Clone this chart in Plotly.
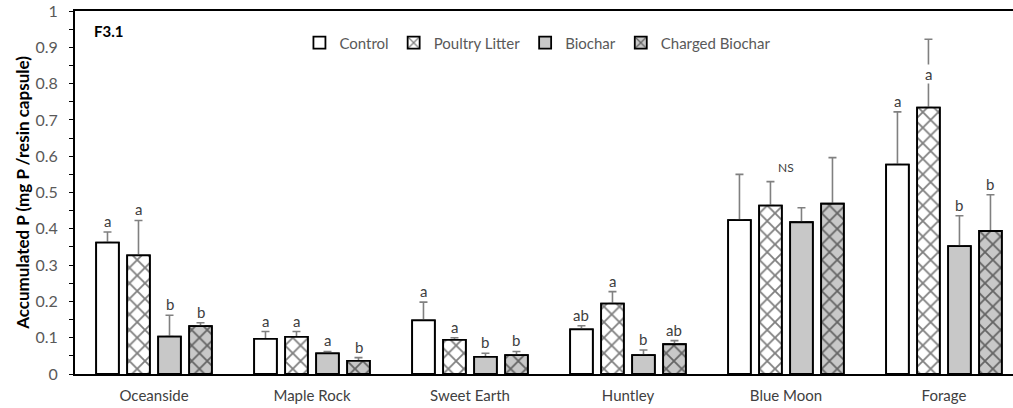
import plotly.graph_objects as go

# Sites and treatment means (mg P per resin capsule) with upper standard errors
categories = ["Oceanside", "Maple Rock", "Sweet Earth", "Huntley", "Blue Moon", "Forage"]

control = [0.362, 0.097, 0.148, 0.123, 0.424, 0.577]
control_err = [0.029, 0.020, 0.050, 0.010, 0.126, 0.145]
control_letters = ["a", "a", "a", "ab", "", "a"]

poultry = [0.327, 0.102, 0.094, 0.194, 0.464, 0.734]
poultry_err = [0.096, 0.015, 0.006, 0.033, 0.066, 0.188]
poultry_letters = ["a", "a", "a", "a", "", "a"]

biochar = [0.103, 0.057, 0.047, 0.052, 0.418, 0.352]
biochar_err = [0.059, 0.005, 0.010, 0.014, 0.040, 0.084]
biochar_letters = ["b", "a", "b", "b", "", "b"]

charged = [0.132, 0.036, 0.052, 0.082, 0.469, 0.394]
charged_err = [0.009, 0.009, 0.010, 0.010, 0.127, 0.100]
charged_letters = ["b", "b", "b", "ab", "", "b"]

series = [
    ("Control", control, control_err, control_letters, "white", ""),
    ("Poultry Litter", poultry, poultry_err, poultry_letters, "white", "x"),
    ("Biochar", biochar, biochar_err, biochar_letters, "#c8c8c8", ""),
    ("Charged Biochar", charged, charged_err, charged_letters, "#c8c8c8", "x"),
]

FONT = "Lato, 'Open Sans', sans-serif"
BARGAP = 0.215
BARGROUPGAP = 0.27


def bar_marker(fill, shape):
    return dict(
        color=fill,
        line=dict(color="black", width=1.8),
        pattern=dict(shape=shape, fgcolor="black", size=11, solidity=0.3),
    )


fig = go.Figure()
for name, vals, err, _, fill, shape in series:
    # upper error bars (drawn first, underneath the bar outline)
    fig.add_trace(go.Bar(
        name=name, x=categories, y=vals, offsetgroup=name,
        marker=bar_marker(fill, shape), showlegend=False, hoverinfo="skip",
        error_y=dict(
            type="data", symmetric=False, array=err, arrayminus=[0] * len(err),
            color="#808080", thickness=1.6, width=4,
        ),
    ))
    # the bar itself, on top so its outline stays black
    fig.add_trace(go.Bar(
        name=name, x=categories, y=vals, offsetgroup=name,
        marker=bar_marker(fill, shape),
    ))

# Significance letters above each error bar
slot = (1 - BARGAP) / len(series)
annotations = []
for k, (name, vals, err, letters, _, _) in enumerate(series):
    offset = (k - (len(series) - 1) / 2) * slot
    for i, (v, e, lab) in enumerate(zip(vals, err, letters)):
        if not lab:
            continue
        shift = 1
        bg = None
        if name == "Poultry Litter" and categories[i] == "Forage":
            # letter sits on the long error bar, below its cap
            shift = -45
            bg = "white"
        annotations.append(dict(
            x=i + offset, y=v + e, xref="x", yref="y", text=lab,
            showarrow=False, yanchor="bottom", yshift=shift,
            font=dict(family=FONT, size=15, color="#404040"),
            bgcolor=bg, borderpad=0,
        ))

annotations.append(dict(
    x=categories.index("Blue Moon"), y=max(v + e for v, e in zip(charged, charged_err)) - 0.027,
    xref="x", yref="y", text="NS", showarrow=False, yanchor="middle",
    font=dict(family=FONT, size=12, color="#404040"),
))
annotations.append(dict(
    x=0.018, y=0.945, xref="paper", yref="paper", text="<b>F3.1</b>",
    showarrow=False, xanchor="left", yanchor="middle",
    font=dict(family=FONT, size=15, color="black"),
))

fig.update_layout(
    width=1013, height=408,
    margin=dict(l=75, r=0, t=11, b=34),
    paper_bgcolor="white", plot_bgcolor="white",
    barmode="group", bargap=BARGAP, bargroupgap=BARGROUPGAP,
    font=dict(family=FONT, size=15, color="#404040"),
    showlegend=True,
    legend=dict(
        orientation="h", x=0.493, xanchor="center", y=0.912, yanchor="middle",
        font=dict(family=FONT, size=15, color="#595959"),
        bgcolor="rgba(0,0,0,0)", itemwidth=30, tracegroupgap=0,
    ),
    annotations=annotations,
    xaxis=dict(
        range=[-0.5, 5.437], showline=True, linecolor="black", linewidth=1.8,
        mirror=True, ticks="", showgrid=False, zeroline=False,
        tickfont=dict(family=FONT, size=15, color="#404040"),
        ticklabelstandoff=7,
    ),
    yaxis=dict(
        range=[0, 1], dtick=0.1, tick0=0, showline=True, linecolor="black",
        linewidth=1.8, ticks="outside", ticklen=4, tickcolor="black",
        showgrid=False, zeroline=False,
        minor=dict(dtick=0.05, ticks="outside", ticklen=4, tickcolor="black"),
        tickfont=dict(family=FONT, size=16, color="#595959"),
        ticklabelstandoff=8,
        title=dict(
            text="<b>Accumulated P (mg P /resin capsule)</b>",
            font=dict(family=FONT, size=17, color="black"), standoff=2,
        ),
    ),
)

fig.write_html("out.html")
